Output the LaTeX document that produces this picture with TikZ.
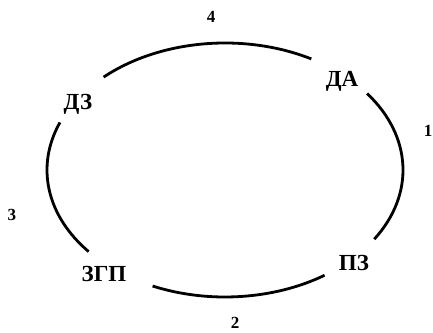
\documentclass[tikz,border=0pt]{standalone}
\usepackage{fontspec}
\setmainfont{Liberation Serif}
\usetikzlibrary{positioning}

\begin{document}
\begin{tikzpicture}[
  x=1pt, y=1pt,
  stagelbl/.style={
    inner sep=0pt,
    font=\fontsize{23}{25}\selectfont\bfseries,
    text=black
  },
  arcnum/.style={inner sep=0pt, font=\fontsize{17}{19}\selectfont\bfseries},
  cycarc/.style={line width=2.8pt, draw=black}
]
\useasboundingbox (0,0) rectangle (433,332);
\coordinate (hub) at (225,162);

\node[stagelbl] (da)  at (342,251) {ДА};
\node[stagelbl] (dz)  at (78,228)  {ДЗ};
\node[stagelbl] (zgp) at (104,58)  {ЗГП};
\node[stagelbl] (pz)  at (354,69)  {ПЗ};

\draw[cycarc] ([shift={(-33:178 and 127)}]hub) arc[start angle=-33, end angle=37, x radius=178, y radius=127];
\draw[cycarc] ([shift={(-56:178 and 127)}]hub) arc[start angle=-56, end angle=-114, x radius=178, y radius=127];
\draw[cycarc] ([shift={(220:178 and 127)}]hub) arc[start angle=220, end angle=158, x radius=178, y radius=127];
\draw[cycarc] ([shift={(133:178 and 127)}]hub) arc[start angle=133, end angle=61, x radius=178, y radius=127];

\node[arcnum] (n1) at (428,201) {1};
\node[arcnum] (n2) at (235,9)   {2};
\node[arcnum] (n3) at (12,117)  {3};
\node[arcnum] (n4) at (211,315) {4};
\end{tikzpicture}
\end{document}
